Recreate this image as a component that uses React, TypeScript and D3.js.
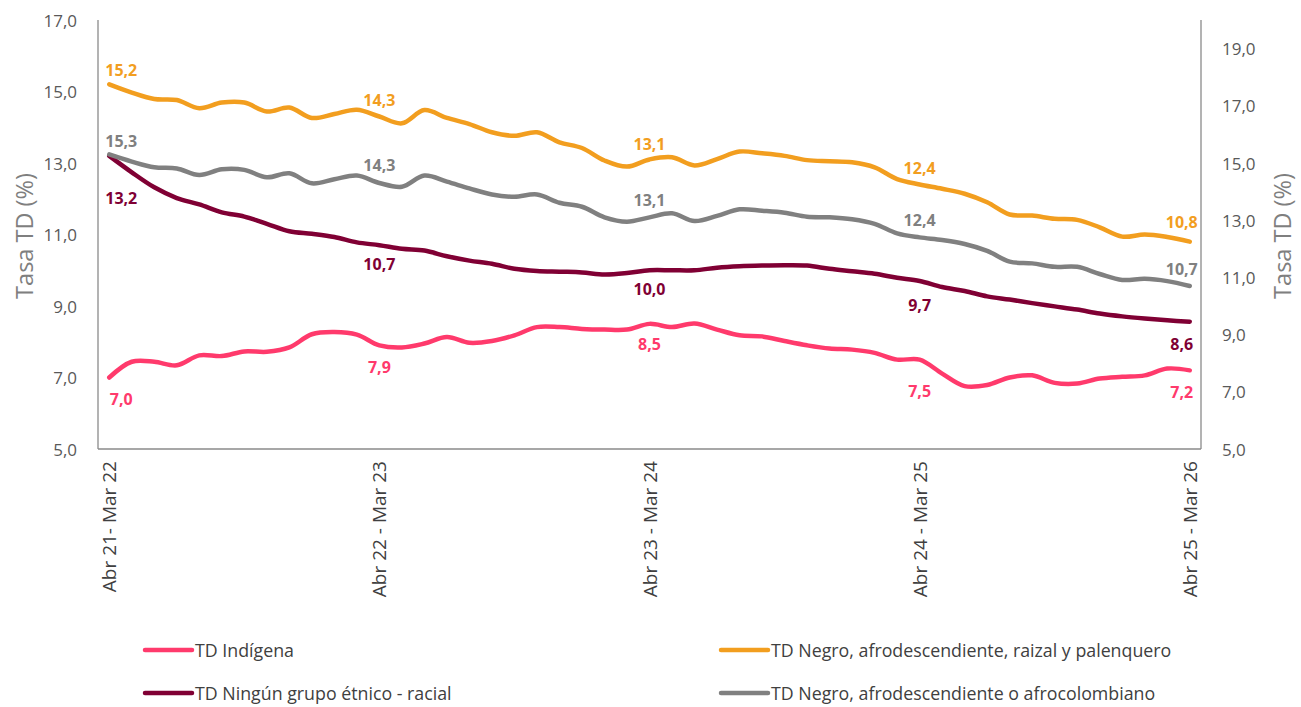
import React from "react";
import * as d3 from "d3";

const categories: string[] = [
  "Abr 21- Mar 22", "May 21 - Abr 22", "Jun 21 - May 22", "Jul 21 - Jun 22", "Ago 21 - Jul 22", "Sep 21 - Ago 22",
  "Oct 21 - Sep 22", "Nov 21 - Oct 22", "Dic 21 - Nov 22", "Ene 22 - Dic 22", "Feb 22 - Ene 23", "Mar 22 - Feb 23",
  "Abr 22 - Mar 23", "May 22 - Abr 23", "Jun 22 - May 23", "Jul 22 - Jun 23", "Ago 22 - Jul 23", "Sep 22 - Ago 23",
  "Oct 22 - Sep 23", "Nov 22 - Oct 23", "Dic 22 - Nov 23", "Ene 23 - Dic 23", "Feb 23 - Ene 24", "Mar 23 - Feb 24",
  "Abr 23 - Mar 24", "May 23 - Abr 24", "Jun 23 - May 24", "Jul 23 - Jun 24", "Ago 23 - Jul 24", "Sep 23 - Ago 24",
  "Oct 23 - Sep 24", "Nov 23 - Oct 24", "Dic 23 - Nov 24", "Ene 24 - Dic 24", "Feb 24 - Ene 25", "Mar 24 - Feb 25",
  "Abr 24 - Mar 25", "May 24 - Abr 25", "Jun 24 - May 25", "Jul 24 - Jun 25", "Ago 24 - Jul 25", "Sep 24 - Ago 25",
  "Oct 24 - Sep 25", "Nov 24 - Oct 25", "Dic 24 - Nov 25", "Ene 25 - Dic 25", "Feb 25 - Ene 26", "Mar 25 - Feb 26",
  "Abr 25 - Mar 26",
];

const tickIndices: number[] = [0, 12, 24, 36, 48];
const leftTicks: number[] = [5, 7, 9, 11, 13, 15, 17];
const rightTicks: number[] = [5, 7, 9, 11, 13, 15, 17, 19];

const indigena: number[] = [
  7.0, 7.44, 7.44, 7.34, 7.62, 7.6, 7.73, 7.72, 7.84, 8.21, 8.27, 8.2,
  7.9, 7.84, 7.95, 8.13, 7.97, 8.02, 8.18, 8.41, 8.41, 8.36, 8.34, 8.34,
  8.5, 8.41, 8.51, 8.34, 8.18, 8.15, 8.02, 7.9, 7.81, 7.78, 7.69, 7.5,
  7.5, 7.11, 6.76, 6.79, 7.0, 7.06, 6.85, 6.83, 6.97, 7.02, 7.06, 7.25,
  7.2,
];

const negroRaizal: number[] = [
  15.2, 14.97, 14.79, 14.76, 14.53, 14.69, 14.69, 14.44, 14.55, 14.26, 14.37, 14.49,
  14.3, 14.11, 14.48, 14.26, 14.09, 13.86, 13.76, 13.86, 13.58, 13.42, 13.07, 12.9,
  13.1, 13.16, 12.93, 13.11, 13.32, 13.27, 13.2, 13.08, 13.05, 13.02, 12.88, 12.55,
  12.4, 12.28, 12.14, 11.9, 11.56, 11.53, 11.44, 11.41, 11.2, 10.94, 11.0, 10.93,
  10.8,
];

const ninguno: number[] = [
  13.2, 12.74, 12.32, 12.02, 11.84, 11.62, 11.5, 11.3, 11.09, 11.02, 10.93, 10.78,
  10.7, 10.6, 10.55, 10.39, 10.27, 10.18, 10.04, 9.98, 9.96, 9.94, 9.88, 9.92,
  10.0, 10.0, 10.0, 10.07, 10.11, 10.13, 10.14, 10.13, 10.04, 9.97, 9.9, 9.79,
  9.7, 9.53, 9.42, 9.27, 9.18, 9.08, 8.99, 8.9, 8.79, 8.71, 8.65, 8.6,
  8.56,
];

const negroAfro: number[] = [
  15.3, 15.05, 14.85, 14.81, 14.58, 14.78, 14.76, 14.5, 14.64, 14.29, 14.43, 14.56,
  14.3, 14.17, 14.56, 14.35, 14.11, 13.9, 13.82, 13.9, 13.61, 13.47, 13.1, 12.95,
  13.1, 13.24, 12.97, 13.15, 13.38, 13.33, 13.26, 13.12, 13.1, 13.03, 12.87, 12.54,
  12.4, 12.31, 12.17, 11.93, 11.55, 11.49, 11.37, 11.37, 11.12, 10.91, 10.95, 10.87,
  10.7,
];

const seriesNames: string[] = [
  "TD Indígena",
  "TD Negro, afrodescendiente, raizal y palenquero",
  "TD Ningún grupo étnico - racial",
  "TD Negro, afrodescendiente o afrocolombiano",
];

const W = 1301;
const H = 707;
const plotL = 98;
const plotR = 1201;
const plotT = 20;
const plotB = 449;

const FONT = "'Segoe UI', 'Open Sans', 'Noto Sans', sans-serif";

type Series = {
  name: string;
  values: number[];
  color: string;
  axis: "left" | "right";
  labelDy: number[];
};

export default function App() {
  const x = d3
    .scalePoint<number>()
    .domain(d3.range(categories.length))
    .range([plotL, plotR])
    .padding(0.5);
  const yL = d3.scaleLinear().domain([5, 17]).range([plotB, plotT]);
  const yR = d3.scaleLinear().domain([5, 20]).range([plotB, plotT]);

  const series: Series[] = [
    { name: seriesNames[0], values: indigena, color: "#FF3A6C", axis: "left", labelDy: [21, 22, 20, 31, 22] },
    { name: seriesNames[1], values: negroRaizal, color: "#F29E1F", axis: "left", labelDy: [-14, -17, -15, -16, -20] },
    { name: seriesNames[2], values: ninguno, color: "#800034", axis: "left", labelDy: [42, 19, 19, 24, 22] },
    { name: seriesNames[3], values: negroAfro, color: "#808080", axis: "right", labelDy: [-13, -18, -17, -17, -17] },
  ];

  const fmt = (v: number) => d3.format(".1f")(v).replace(".", ",");

  const lineFor = (s: Series) => {
    const y = s.axis === "left" ? yL : yR;
    return d3
      .line<number>()
      .x((_, i) => x(i) as number)
      .y((v) => y(v))
      .curve(d3.curveCatmullRom.alpha(0.5))(s.values) as string;
  };

  const labelDx = (i: number) => (i === 0 ? 12 : i === categories.length - 1 ? -8 : 0);

  const legendItems = [
    { s: series[0], lx: 145, ly: 650 },
    { s: series[1], lx: 721, ly: 650 },
    { s: series[2], lx: 145, ly: 693 },
    { s: series[3], lx: 721, ly: 693 },
  ];

  return (
    <svg
      width={W}
      height={H}
      style={{ position: "absolute", left: 0, top: 0, background: "#fff" }}
      fontFamily={FONT}
    >
      {/* axes lines */}
      <line x1={plotL} x2={plotL} y1={plotT} y2={plotB} stroke="#8a8a8a" strokeWidth={1.3} />
      <line x1={plotR} x2={plotR} y1={plotT} y2={plotB} stroke="#8a8a8a" strokeWidth={1.3} />
      <line x1={plotL} x2={plotR} y1={plotB} y2={plotB} stroke="#8a8a8a" strokeWidth={1.3} />

      {/* left ticks */}
      {leftTicks.map((t) => (
        <text key={"l" + t} x={77} y={yL(t)} textAnchor="end" dominantBaseline="central" fontSize={17} fill="#595959">
          {fmt(t)}
        </text>
      ))}
      {rightTicks.map((t) => (
        <text key={"r" + t} x={1222} y={yR(t)} textAnchor="start" dominantBaseline="central" fontSize={17} fill="#595959">
          {fmt(t)}
        </text>
      ))}

      {/* axis titles */}
      <text
        transform={`translate(24,236) rotate(-90)`}
        textAnchor="middle"
        dominantBaseline="central"
        fontSize={23.5}
        fill="#7f7f7f"
      >
        Tasa TD (%)
      </text>
      <text
        transform={`translate(1282,236) rotate(-90)`}
        textAnchor="middle"
        dominantBaseline="central"
        fontSize={23.5}
        fill="#7f7f7f"
      >
        Tasa TD (%)
      </text>

      {/* x tick labels */}
      {tickIndices.map((i) => (
        <text
          key={"x" + i}
          transform={`translate(${x(i)},${plotB + 12}) rotate(-90)`}
          textAnchor="end"
          dominantBaseline="central"
          fontSize={19}
          fill="#404040"
        >
          {categories[i]}
        </text>
      ))}

      {/* lines */}
      {series.map((s) => (
        <path
          key={s.name}
          d={lineFor(s)}
          fill="none"
          stroke={s.color}
          strokeWidth={4.5}
          strokeLinecap="round"
          strokeLinejoin="round"
        />
      ))}

      {/* data labels */}
      {series.map((s) =>
        tickIndices.map((i, k) => {
          const y = s.axis === "left" ? yL : yR;
          return (
            <text
              key={s.name + i}
              x={(x(i) as number) + labelDx(i)}
              y={y(s.values[i]) + s.labelDy[k]}
              textAnchor="middle"
              dominantBaseline="central"
              fontSize={16}
              fontWeight="bold"
              fill={s.color}
            >
              {fmt(s.values[i])}
            </text>
          );
        })
      )}

      {/* legend */}
      {legendItems.map(({ s, lx, ly }) => (
        <g key={"lg" + s.name}>
          <line x1={lx} x2={lx + 47} y1={ly} y2={ly} stroke={s.color} strokeWidth={4.5} strokeLinecap="round" />
          <text x={lx + 50} y={ly} dominantBaseline="central" fontSize={17.8} fill="#404040">
            {s.name}
          </text>
        </g>
      ))}
    </svg>
  );
}
